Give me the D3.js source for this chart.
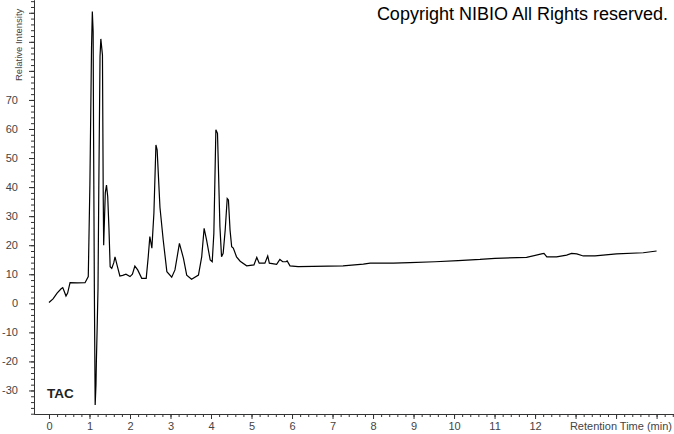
<!DOCTYPE html>
<html>
<head>
<meta charset="utf-8">
<script src="https://cdn.jsdelivr.net/npm/d3@7"></script>
<style>
  body { margin: 0; background: #fff; }
  svg { display: block; font-family: "Liberation Sans", Arial, sans-serif; }
  .axis path, .axis line { stroke: #333; }
  .axis text { fill: #444; font-size: 11px; }
</style>
</head>
<body>
<div id="chart"></div>
<script>
// Chromatogramme TAC
const retentionTime = [
  0.00, 0.10, 0.20, 0.30, 0.34, 0.38, 0.42, 0.46, 0.52, 0.70, 0.89, 0.97,
  1.01, 1.05, 1.07, 1.09, 1.10, 1.12, 1.14, 1.16, 1.17, 1.19, 1.21, 1.23,
  1.26, 1.28, 1.32, 1.34, 1.35, 1.39, 1.42, 1.45, 1.48, 1.51, 1.55, 1.60,
  1.63, 1.69, 1.75, 1.82, 1.90, 2.00, 2.06, 2.12, 2.19, 2.29, 2.40, 2.45,
  2.49, 2.54, 2.59, 2.64, 2.67, 2.74, 2.82, 2.91, 3.03, 3.11, 3.22, 3.32,
  3.40, 3.52, 3.69, 3.77, 3.83, 3.89, 3.98, 4.03, 4.07, 4.12, 4.16, 4.18,
  4.22, 4.26, 4.30, 4.35, 4.40, 4.43, 4.47, 4.51, 4.55, 4.63, 4.72, 4.88,
  5.06, 5.13, 5.19, 5.33, 5.40, 5.44, 5.62, 5.70, 5.77, 5.85, 5.88, 5.95,
  6.15, 7.26, 7.76, 7.93, 8.50, 8.91, 9.53, 10.10, 10.64, 11.01, 11.79, 12.16,
  12.22, 12.29, 12.53, 12.78, 12.90, 13.03, 13.19, 13.48, 14.01, 14.67, 15.00
];
const intensity = [
  0.3, 1.5, 3.5, 5.0, 5.4, 4.0, 2.5, 3.5, 7.1, 7.0, 7.1, 9.2,
  41, 88, 100.4, 93.5, 60, 5, -35, -28, -20, -8, 5, 40,
  85, 91, 85.5, 35.5, 20, 38, 40.7, 36.7, 26, 12.6, 12, 14,
  16, 12.6, 9.4, 9.6, 10, 9.2, 10, 12.8, 11.5, 8.6, 8.6, 16,
  23, 19, 31, 54.5, 52.8, 33, 21.8, 10.9, 9, 11.5, 20.6, 15.5,
  9.7, 8.3, 9.7, 16, 25.8, 21.8, 14.9, 14.3, 24, 59.7, 58.5, 48,
  26.4, 16, 17.2, 25.2, 36.1, 35.6, 25.2, 19.5, 19, 16, 14.5, 12.9,
  13.2, 15.8, 13.8, 13.8, 16.3, 13.8, 13.4, 15.1, 14.3, 14.3, 14.6, 12.9,
  12.6, 12.9, 13.5, 13.8, 13.8, 14.0, 14.3, 14.7, 15.1, 15.5, 15.8, 17,
  17.2, 16, 16, 16.6, 17.2, 17, 16.3, 16.3, 17, 17.4, 18
];
const xTickLabels = [0, 1, 2, 3, 4, 5, 6, 7, 8, 9, 10, 11, 12];
const yTickLabels = [-30, -20, -10, 0, 10, 20, 30, 40, 50, 60, 70];
const xDomain = [-0.37, 15.43];
const yDomain = [-38.1, 104.4];

// 1. Dimensions
const width = 674, height = 434;
const left = 34, bottom = 414;

const svg = d3.select("#chart").append("svg")
  .attr("width", width)
  .attr("height", height);

// 2. Echelles
const x = d3.scaleLinear().domain(xDomain).range([left, width]);
const y = d3.scaleLinear().domain(yDomain).range([bottom, 0]);

// 3. Axe X : petites graduations puis grandes
svg.append("g")
  .attr("class", "axis")
  .attr("transform", `translate(0,${bottom})`)
  .call(d3.axisBottom(x)
    .tickValues(d3.range(0, 15.41, 0.2))
    .tickSize(3).tickSizeOuter(0).tickFormat(""));

svg.append("g")
  .attr("class", "axis")
  .attr("transform", `translate(0,${bottom})`)
  .call(d3.axisBottom(x)
    .tickValues(d3.range(0, 16, 1))
    .tickSize(5).tickSizeOuter(0).tickPadding(3)
    .tickFormat(d => xTickLabels.includes(d) ? d : ""));

// 4. Axe Y
svg.append("g")
  .attr("class", "axis")
  .attr("transform", `translate(${left},0)`)
  .call(d3.axisLeft(y)
    .tickValues(d3.range(-38, 104.1, 2))
    .tickSize(3).tickSizeOuter(0).tickFormat(""));

svg.append("g")
  .attr("class", "axis")
  .attr("transform", `translate(${left},0)`)
  .call(d3.axisLeft(y)
    .tickValues(d3.range(-30, 101, 10))
    .tickSize(5).tickSizeOuter(0).tickPadding(11)
    .tickFormat(d => yTickLabels.includes(d) ? d : ""));

// 5. Titres des axes (le titre Y reste entier, un peu plus petit)
svg.append("text")
  .attr("transform", `translate(22,81) rotate(-90)`)
  .attr("fill", "#444")
  .style("font-size", "9.5px")
  .text("Relative Intensity");

svg.append("text")
  .attr("x", 672).attr("y", 430)
  .attr("text-anchor", "end")
  .attr("fill", "#444")
  .style("font-size", "11px")
  .text("Retention Time (min)");

// 6. Trace
const points = retentionTime.map((t, i) => [t, intensity[i]]);
svg.append("path")
  .datum(points)
  .attr("fill", "none")
  .attr("stroke", "#000")
  .attr("stroke-width", 1.2)
  .attr("d", d3.line().x(d => x(d[0])).y(d => y(d[1])));

// 7. Annotations
svg.append("text")
  .attr("x", 47).attr("y", 398)
  .style("font-size", "13.5px")
  .style("font-weight", "bold")
  .attr("fill", "#222")
  .text("TAC");

svg.append("text")
  .attr("x", 668).attr("y", 20)
  .attr("text-anchor", "end")
  .style("font-size", "18px")
  .attr("fill", "#000")
  .text("Copyright NIBIO All Rights reserved.");
</script>
</body>
</html>
